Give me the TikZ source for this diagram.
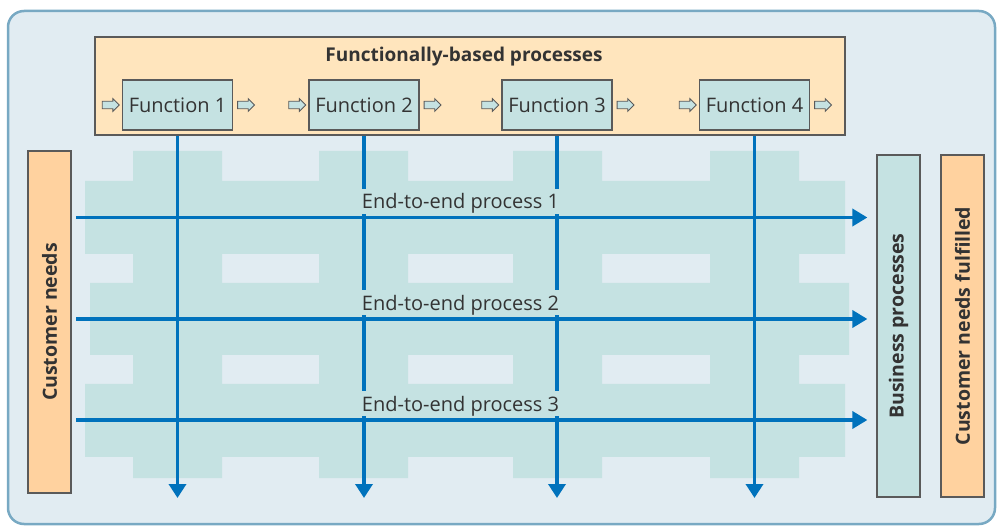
\documentclass[tikz,border=0pt]{standalone}
\usepackage{fontspec}
\setmainfont{Open Sans}
\usetikzlibrary{arrows.meta,shapes.arrows}
\definecolor{panel}{HTML}{E1ECF2}
\definecolor{frameblue}{HTML}{78A9C3}
\definecolor{peachlt}{HTML}{FFE5BD}
\definecolor{peach}{HTML}{FFD29F}
\definecolor{teal}{HTML}{C5E2E2}
\definecolor{flowblue}{HTML}{0072BC}
\definecolor{edge}{HTML}{5A5A5A}
\definecolor{ink}{HTML}{333333}

\begin{document}
\begin{tikzpicture}[x=1pt, y=-1pt, every node/.style={font=\fontsize{20}{23}\selectfont, text=ink},
	box/.style={draw=edge, line width=1.2, inner sep=0},
	side/.style={box, rotate=90, minimum width=342, minimum height=43, font=\bfseries\fontsize{19.5}{22}\selectfont},
	small/.style={single arrow, draw=edge, fill=teal, line width=0.9, inner xsep=0, inner ysep=3.3, minimum height=17, minimum width=12, single arrow head extend=2.6},
	flow/.style={draw=flowblue, line width=3.5, -{Triangle[length=15,width=17]}},
	down/.style={draw=flowblue, line width=3.5, -{Triangle[length=14,width=17]}},
	lab/.style={fill=teal, anchor=base, inner xsep=2, inner ysep=2, text height=18, text depth=3}]
	\useasboundingbox (0,0) rectangle (999,526);
	\draw[fill=panel, draw=frameblue, line width=2.5, rounded corners=16] (8,11) rectangle (995,524);
	% crossing pattern behind the flows
	\fill[teal] foreach \x in {133,319,513,710} {(\x,151) rectangle +(89,327)};
	\fill[teal] (85,181) rectangle (845,254) (90,283) rectangle (849,355) (85,384) rectangle (845,457);
	\node[box, fill=peachlt, minimum width=750, minimum height=98] (funcs) at (470,86) {};
	\node[font=\bfseries\fontsize{19}{22}\selectfont] (title) at (464,57) {Functionally-based processes};
	\foreach \n/\x in {1/177.5,2/364,3/557,4/754.5} {
		\node[box, fill=teal, minimum width=110, minimum height=50] (f\n) at (\x,105) {Function \n};
		\node[small, anchor=tip] (in\n) at ([xshift=-2]f\n.west) {};
		\node[small, anchor=tail] (out\n) at ([xshift=4]f\n.east) {};
		\coordinate (end\n) at (\x,498);
		\draw[down] (f\n |- funcs.south) -- (end\n);
	}
	\node[side, fill=peach] (need) at (49.5,322) {Customer needs};
	\node[side, fill=teal] (biz) at (898.5,326) {Business processes};
	\node[side, fill=peach] (done) at (962.5,326) {Customer needs fulfilled};
	\foreach \k/\y in {1/217.5,2/319,3/420} {
		\draw[flow] ([xshift=4.5]need.south |- 0,\y) -- ([xshift=-9]biz.north |- 0,\y);
		\node[lab] (e\k) at (460.5,\y-8.5) {End-to-end process \k};
	}
\end{tikzpicture}
\end{document}
